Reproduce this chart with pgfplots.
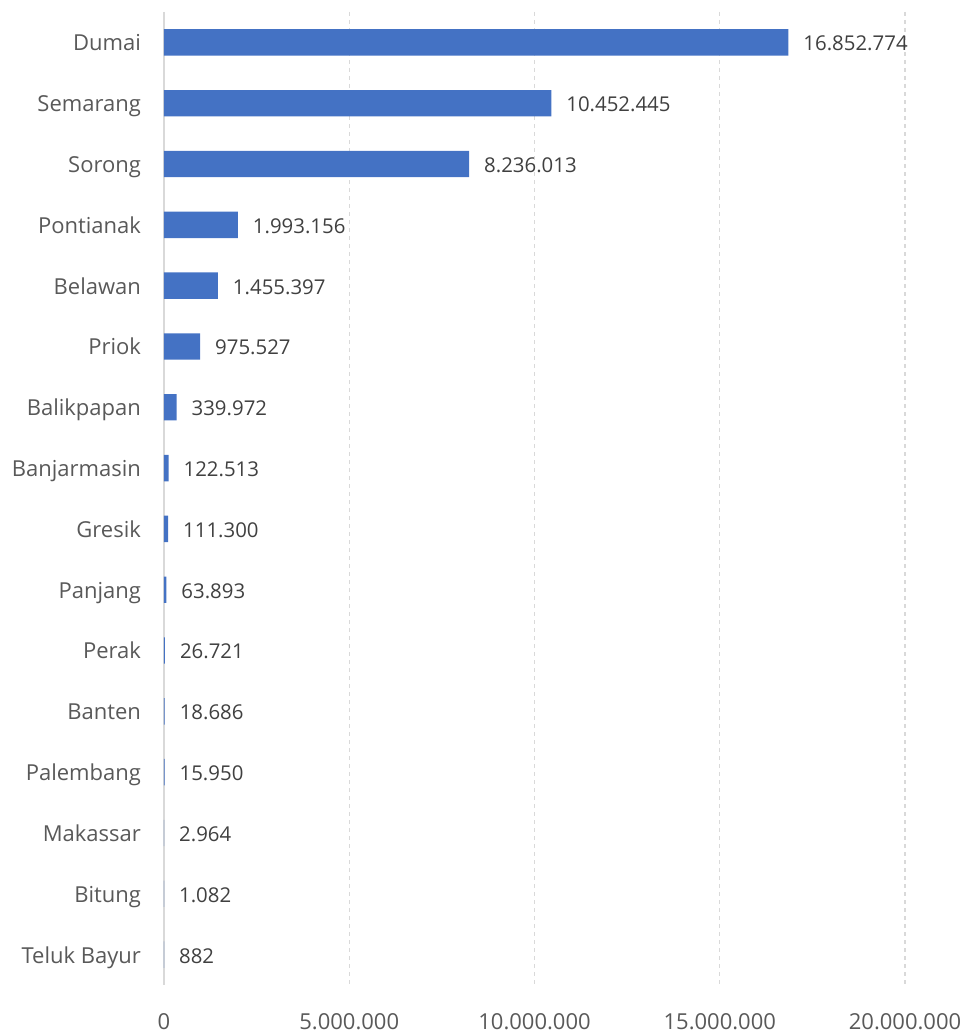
\documentclass[border=0pt]{standalone}
\usepackage{pgfplots}
\pgfplotsset{compat=1.18}
\usepackage{pgfplotstable}
\usepackage{fontspec}
\setmainfont{Open Sans}
\definecolor{barblue}{HTML}{4472C4}
\definecolor{ticktext}{HTML}{595959}
\definecolor{valtext}{HTML}{404040}
\definecolor{gridgray}{HTML}{D9D9D9}
\pgfplotstableread{
i v lab
0 16852774 16.852.774
1 10452445 10.452.445
2 8236013 8.236.013
3 1993156 1.993.156
4 1455397 1.455.397
5 975527 975.527
6 339972 339.972
7 122513 122.513
8 111300 111.300
9 63893 63.893
10 26721 26.721
11 18686 18.686
12 15950 15.950
13 2964 2.964
14 1082 1.082
15 882 882
}\datatable
\begin{document}
\begin{tikzpicture}
\path[use as bounding box] (-82pt,-23.5pt) rectangle (400.5pt,492.5pt);
\begin{axis}[
  at={(0,0)}, anchor=south west,
  scale only axis,
  width=370.5pt, height=486.5pt,
  xbar, bar width=13.2pt,
  xmin=0, xmax=20000000,
  ymin=-0.5, ymax=15.5,
  y dir=reverse,
  ytick={0,...,15},
  yticklabels={Dumai,Semarang,Sorong,Pontianak,Belawan,Priok,Balikpapan,Banjarmasin,Gresik,Panjang,Perak,Banten,Palembang,Makassar,Bitung,Teluk Bayur},
  xtick={0,5000000,10000000,15000000,20000000},
  xticklabels={0,5.000.000,10.000.000,15.000.000,20.000.000},
  scaled x ticks=false,
  major tick length=0pt,
  axis lines*=left,
  x axis line style={draw=none},
  y axis line style={draw=gridgray, line width=0.8pt},
  xmajorgrids=true,
  grid style={draw=gridgray, dash pattern=on 2pt off 2pt, line width=0.6pt},
  clip=false,
  tick label style={font=\fontsize{11}{13}\selectfont, text=ticktext},
  yticklabel style={anchor=base east, xshift=-8pt, yshift=-4.2pt},
  xticklabel style={anchor=base, yshift=-22.2pt},
  nodes near coords,
  point meta=explicit symbolic,
  nodes near coords style={anchor=base west, xshift=4pt, yshift=-4.2pt, font=\fontsize{10.2}{12}\selectfont, text=valtext},
]
\addplot[fill=barblue, draw=none] table[x=v, y=i, meta=lab] {\datatable};
\end{axis}
\end{tikzpicture}
\end{document}
